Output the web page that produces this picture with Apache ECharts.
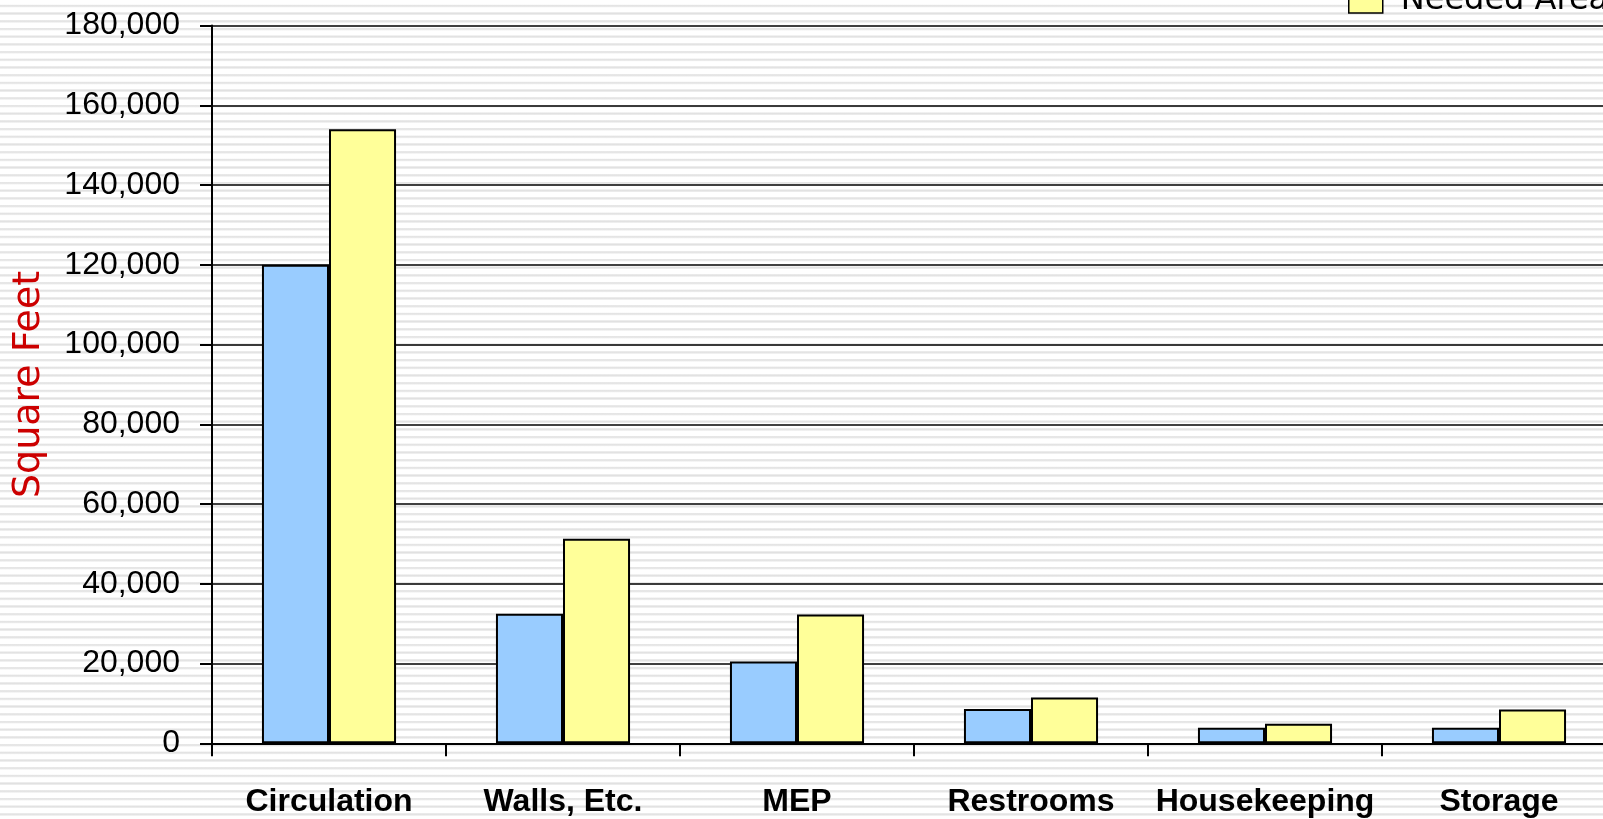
<!DOCTYPE html>
<html>
<head>
<meta charset="utf-8">
<script src="https://cdn.jsdelivr.net/npm/echarts@6/dist/echarts.min.js"></script>
<style>
html,body{margin:0;padding:0;width:1603px;height:819px;overflow:hidden;
background:repeating-linear-gradient(to bottom,#ffffff 0px,#ffffff 4.4px,#ececec 4.8px,#e1e1e1 5.8px,#ececec 6.8px,#ffffff 7.7px);}
#chart{width:1603px;height:819px;}
</style>
</head>
<body>
<div id="chart"></div>
<script>
const categories = ['Circulation', 'Walls, Etc.', 'MEP', 'Restrooms', 'Housekeeping', 'Storage'];
const seriesNames = ['Existing Area', 'Needed Area'];
const existingArea = [120000, 32500, 20500, 8600, 3900, 3900];
const neededArea = [154000, 51300, 32300, 11500, 4900, 8500];
const yTicks = [0, 20000, 40000, 60000, 80000, 100000, 120000, 140000, 160000, 180000];
const yAxisTitle = 'Square Feet';

const chart = echarts.init(document.getElementById('chart'), null, {renderer: 'canvas'});
const sans = "'Liberation Sans', Arial, sans-serif";
chart.setOption({
  backgroundColor: 'transparent',
  animation: false,
  legend: {
    data: seriesNames,
    orient: 'vertical',
    left: 1348,
    top: -78,
    padding: 0,
    itemGap: 10,
    itemWidth: 34,
    itemHeight: 24,
    icon: 'rect',
    selectedMode: false,
    textStyle: {fontFamily: "'DejaVu Sans', Verdana, sans-serif", fontSize: 32, color: '#000', lineHeight: 40, padding: [6,0,0,13]},
    itemStyle: {borderColor: '#000', borderWidth: 1.5}
  },
  grid: {left: 212, top: 25.5, width: 1404, height: 717.8, containLabel: false, outerBoundsMode: 'none'},
  xAxis: {
    type: 'category',
    data: categories,
    axisLine: {lineStyle: {color: '#000', width: 2}},
    axisTick: {show: true, length: 13, alignWithLabel: false, lineStyle: {color: '#000', width: 2}},
    axisLabel: {fontFamily: sans, fontWeight: 'bold', fontSize: 32, color: '#000', margin: 43, interval: 0}
  },
  yAxis: {
    type: 'value',
    min: yTicks[0],
    max: yTicks[yTicks.length - 1],
    interval: yTicks[1] - yTicks[0],
    name: yAxisTitle,
    nameLocation: 'middle',
    nameRotate: 90,
    nameGap: 164,
    nameTextStyle: {fontFamily: "'DejaVu Sans', Verdana, sans-serif", fontSize: 38, color: '#cc0000'},
    axisLine: {show: true, lineStyle: {color: '#000', width: 2}},
    axisTick: {show: true, length: 12, lineStyle: {color: '#000', width: 2}},
    axisLabel: {fontFamily: sans, fontSize: 32, color: '#000', margin: 32,
      formatter: v => v.toLocaleString('en-US')},
    splitLine: {show: true, lineStyle: {color: '#000', width: 1.5}}
  },
  series: [
    {name: seriesNames[0], type: 'bar', data: existingArea, barGap: '0%', barCategoryGap: '42.7%',
     itemStyle: {color: '#99ccff', borderColor: '#000', borderWidth: 2}},
    {name: seriesNames[1], type: 'bar', data: neededArea, barGap: '0%', barCategoryGap: '42.7%',
     itemStyle: {color: '#ffff99', borderColor: '#000', borderWidth: 2}}
  ]
});
</script>
</body>
</html>
